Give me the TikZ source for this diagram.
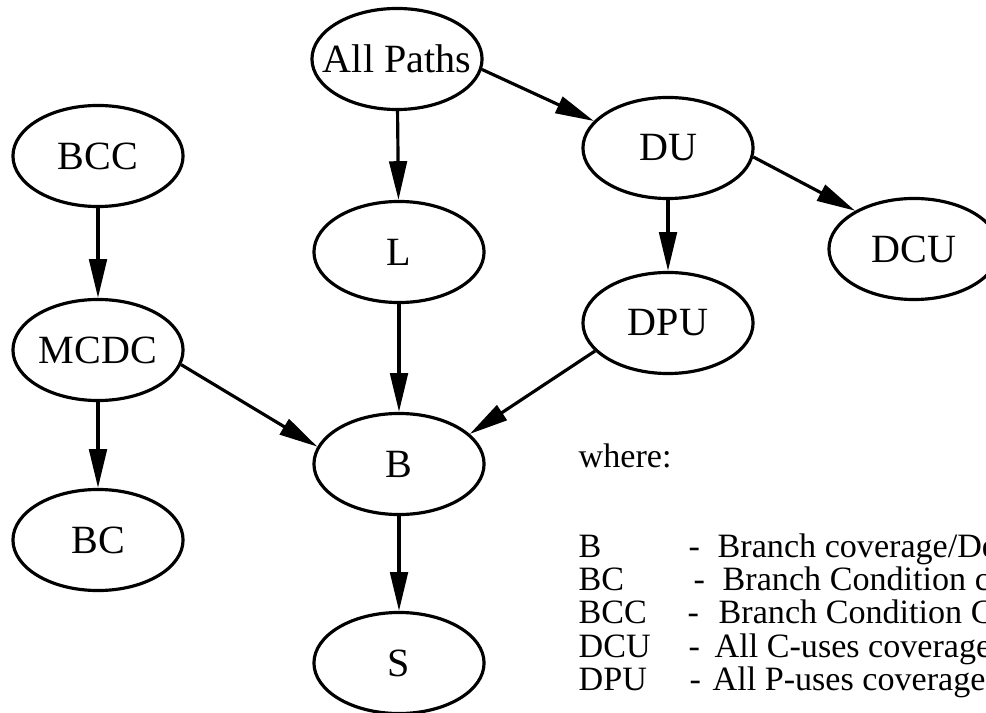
\documentclass[tikz,border=0pt]{standalone}
\usepackage{fontspec}
\setmainfont{Liberation Serif}
\usetikzlibrary{shapes.geometric,arrows.meta}
\newcommand{\nbx}[1]{\makebox[0pt]{#1}}
\begin{document}
\begin{tikzpicture}[x=0.01cm,y=-0.01cm,
  nd/.style={ellipse,draw,line width=0.9pt,minimum width=1.70cm,minimum height=1.01cm,inner sep=0pt,
    font=\fontsize{11.4pt}{13pt}\selectfont},
  arr/.style={line width=0.9pt,-{Triangle[length=11pt,width=5pt]}},
  lg/.style={anchor=base west,inner sep=0pt,font=\fontsize{9.7pt}{11pt}\selectfont}]
\useasboundingbox (0,0) rectangle (986,713);
\clip (0,0) rectangle (986,713);
\node[nd] (AP) at (397,59) {\nbx{All Paths}};
\node[nd] (BCC) at (98,156) {\nbx{BCC}};
\node[nd] (DU) at (668,148) {\nbx{DU}};
\node[nd] (L) at (399,252) {\nbx{L}};
\node[nd] (DCU) at (914,249) {\nbx{DCU}};
\node[nd] (DPU) at (668,323) {\nbx{DPU}};
\node[nd] (MCDC) at (98,350) {\nbx{MCDC}};
\node[nd] (B) at (399,464) {\nbx{B}};
\node[nd] (BC) at (98,540) {\nbx{BC}};
\node[nd] (S) at (399,663) {\nbx{S}};
\draw[arr] (AP) -- (L);
\draw[arr] (AP.-7) -- (DU.160);
\draw[arr] (DU.-6) -- (DCU.147);
\draw[arr] (DU) -- (DPU);
\draw[arr] (BCC) -- (MCDC);
\draw[arr] (MCDC) -- (BC);
\draw[arr] (MCDC.-10) -- (B.168);
\draw[arr] (L) -- (B);
\draw[arr] (DPU.201) -- (B.23);
\draw[arr] (B) -- (S);
\node[lg] (w) at (578,467) {where:};
\node[lg] (k1) at (578,557) {B};
\node[lg] (d1) at (688,557) {-};
\node[lg] (t1) at (717,557) {Branch coverage/Decision};
\node[lg] (k2) at (578,590) {BC};
\node[lg] (d2) at (693,590) {-};
\node[lg] (t2) at (722,590) {Branch Condition coverage};
\node[lg] (k3) at (578,623) {BCC};
\node[lg] (d3) at (687,623) {-};
\node[lg] (t3) at (718,623) {Branch Condition Combination};
\node[lg] (k4) at (578,657) {DCU};
\node[lg] (d4) at (688,657) {-};
\node[lg] (t4) at (714,657) {All C-uses coverage};
\node[lg] (k5) at (578,690) {DPU};
\node[lg] (d5) at (689,690) {-};
\node[lg] (t5) at (712,690) {All P-uses coverage};
\end{tikzpicture}
\end{document}
